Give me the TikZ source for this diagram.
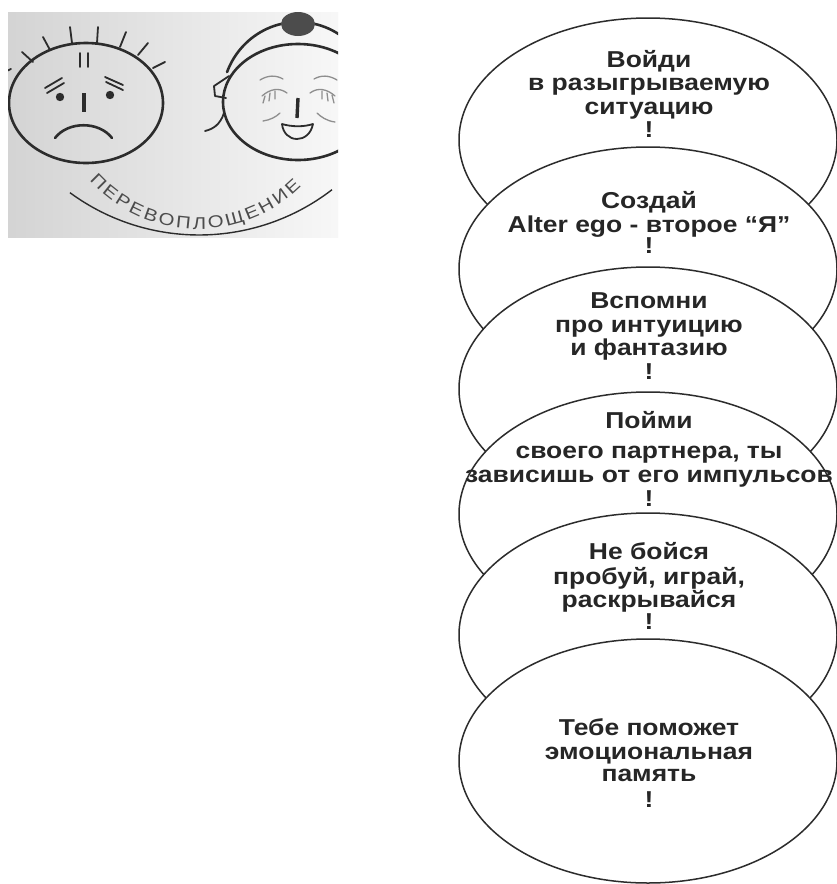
\documentclass[tikz,border=0pt]{standalone}
\usepackage{fontspec}
\setmainfont{Liberation Sans}
\newfontfamily\bubblefont[FakeStretch=1.15]{Liberation Sans}
\newfontfamily\arcfont[FakeStretch=1.2]{Liberation Sans}
\usetikzlibrary{decorations.text,shapes.geometric}
\definecolor{ink}{HTML}{2C2C2C}
\definecolor{soft}{HTML}{8E8E8E}
\definecolor{txt}{HTML}{262626}
\begin{document}
\begin{tikzpicture}[x=1pt,y=1pt,
  bubble/.style={draw=ink, fill=white, line width=1.5pt, ellipse,
    minimum width=378pt, minimum height=244pt, inner sep=0pt},
  lbl/.style={font=\bubblefont\fontsize{23}{26}\selectfont\bfseries, text=txt,
    anchor=base, inner sep=0pt},
  faceline/.style={draw=ink, line width=2.6pt, line cap=round},
  thinline/.style={draw=ink, line width=1.8pt, line cap=round},
  fineline/.style={draw=soft, line width=1.3pt, line cap=round}]
\useasboundingbox (0,0) rectangle (836,-884);
\fill[white] (0,0) rectangle (836,-884);

% ---------- the two faces ----------
\begin{scope}
  \clip (8,-12) rectangle (338,-237);
  \shade[left color=black!17, right color=black!3] (8,-12) rectangle (338,-237);

  % gloomy face
  \draw[faceline] (86,-103) ellipse [x radius=77, y radius=60];
  \foreach \a/\b/\c/\d in {0/-74/11/-69, 22/-52/33/-62, 43/-37/50/-50,
      70/-27/72/-43, 98/-27/97/-43, 126/-32/120/-47, 148/-43/138/-55,
      165/-62/153/-68}
    \draw[thinline] (\a,\b) -- (\c,\d);
  \draw[thinline] (80,-53) -- (80,-67) (88,-53) -- (88,-67);
  \draw[thinline] (45,-88) -- (62,-78) (47,-93) -- (64,-83);
  \draw[thinline] (105,-77) -- (123,-85) (106,-82) -- (123,-90);
  \fill[ink] (60,-97) circle (4.2) (110,-95) circle (4.2);
  \draw[ink, line width=3.6pt] (84,-93) -- (84,-112);
  \draw[faceline] (55,-138) .. controls (68,-121) and (99,-121) .. (112,-138);

  % cheerful face with a bun
  \draw[faceline] (298,-102) ellipse [x radius=75, y radius=58];
  \draw[faceline] (298,-100) ++(159:76 and 78) arc [start angle=159, end angle=30,
    x radius=76, y radius=78];
  \fill[ink!85] (298,-24) ellipse [x radius=17, y radius=12];
  \draw[thinline, line join=round] (229,-76) -- (214,-86) -- (215,-96) -- (226,-98);
  \draw[thinline] (224,-113) .. controls (220,-125) and (213,-129) .. (205,-131);
  % closed eyes, brows, cheeks
  \draw[fineline] (260,-80) .. controls (268,-75) and (276,-75) .. (283,-79);
  \draw[fineline] (314,-79) .. controls (321,-75) and (329,-75) .. (337,-80);
  \draw[fineline] (262,-96) .. controls (270,-89) and (279,-87) .. (287,-93);
  \draw[fineline] (310,-93) .. controls (318,-87) and (327,-89) .. (335,-96);
  \draw[fineline] (265,-96) -- (263,-103) (270,-93) -- (269,-101) (275,-91) -- (275,-99);
  \draw[fineline] (322,-91) -- (322,-99) (327,-93) -- (328,-101) (332,-95) -- (334,-103);
  \draw[fineline] (263,-121) .. controls (270,-120) and (276,-117) .. (280,-113);
  \draw[fineline] (317,-113) .. controls (321,-117) and (327,-121) .. (335,-122);
  \draw[ink, line width=3.4pt] (298,-98) -- (297,-118);
  \draw[thinline, line join=round] (282,-124) .. controls (292,-127) and (304,-127) .. (313,-124)
    .. controls (311,-134) and (304,-139) .. (297,-139)
    .. controls (289,-139) and (283,-133) .. (282,-124) -- cycle;

  % the arc with its caption
  \coordinate (arcc) at (199,-17);
  \coordinate (capc) at (198,-83);
  \draw[ink, line width=1.4pt] (arcc) ++(233.7:218) arc [start angle=233.7, end angle=307.6, radius=218];
  \path[decorate, decoration={text along path,
      text={|\arcfont\fontsize{17}{17}\selectfont\color{ink!85}|ПЕРЕВОПЛОЩЕНИЕ},
      text align={fit to path}}]
    (capc) ++(222:146) arc [start angle=222, end angle=315, radius=146];
\end{scope}

% ---------- stack of bubbles ----------
\node[bubble] (b1) at (648,-140) {};
\node[lbl] (b1a) at (649,-67) {Войди};
\node[lbl] (b1b) at (649,-90) {в разыгрываемую};
\node[lbl] (b1c) at (649,-114) {ситуацию};
\node[lbl] (b1d) at (649,-137) {!};

\node[bubble] (b2) at (648,-269) {};
\node[lbl] (b2a) at (649,-208) {Создай};
\node[lbl] (b2b) at (649,-232) {Alter ego - второе “Я”};
\node[lbl] (b2c) at (649,-253) {!};

\node[bubble] (b3) at (648,-389) {};
\node[lbl] (b3a) at (649,-308) {Вспомни};
\node[lbl] (b3b) at (649,-332) {про интуицию};
\node[lbl] (b3c) at (649,-355) {и фантазию};
\node[lbl] (b3d) at (649,-379) {!};

\node[bubble] (b4) at (648,-514) {};
\node[lbl] (b4a) at (649,-428) {Пойми};
\node[lbl] (b4b) at (649,-458) {своего партнера, ты};
\node[lbl] (b4c) at (649,-482) {зависишь от его импульсов};
\node[lbl] (b4d) at (649,-506) {!};

\node[bubble] (b5) at (648,-635) {};
\node[lbl] (b5a) at (649,-559) {Не бойся};
\node[lbl] (b5b) at (649,-584) {пробуй, играй,};
\node[lbl] (b5c) at (649,-607) {раскрывайся};
\node[lbl] (b5d) at (649,-629) {!};

\node[bubble] (b6) at (648,-761) {};
\node[lbl] (b6a) at (649,-735) {Тебе поможет};
\node[lbl] (b6b) at (649,-759) {эмоциональная};
\node[lbl] (b6c) at (649,-781) {память};
\node[lbl] (b6d) at (649,-807) {!};
\end{tikzpicture}
\end{document}
